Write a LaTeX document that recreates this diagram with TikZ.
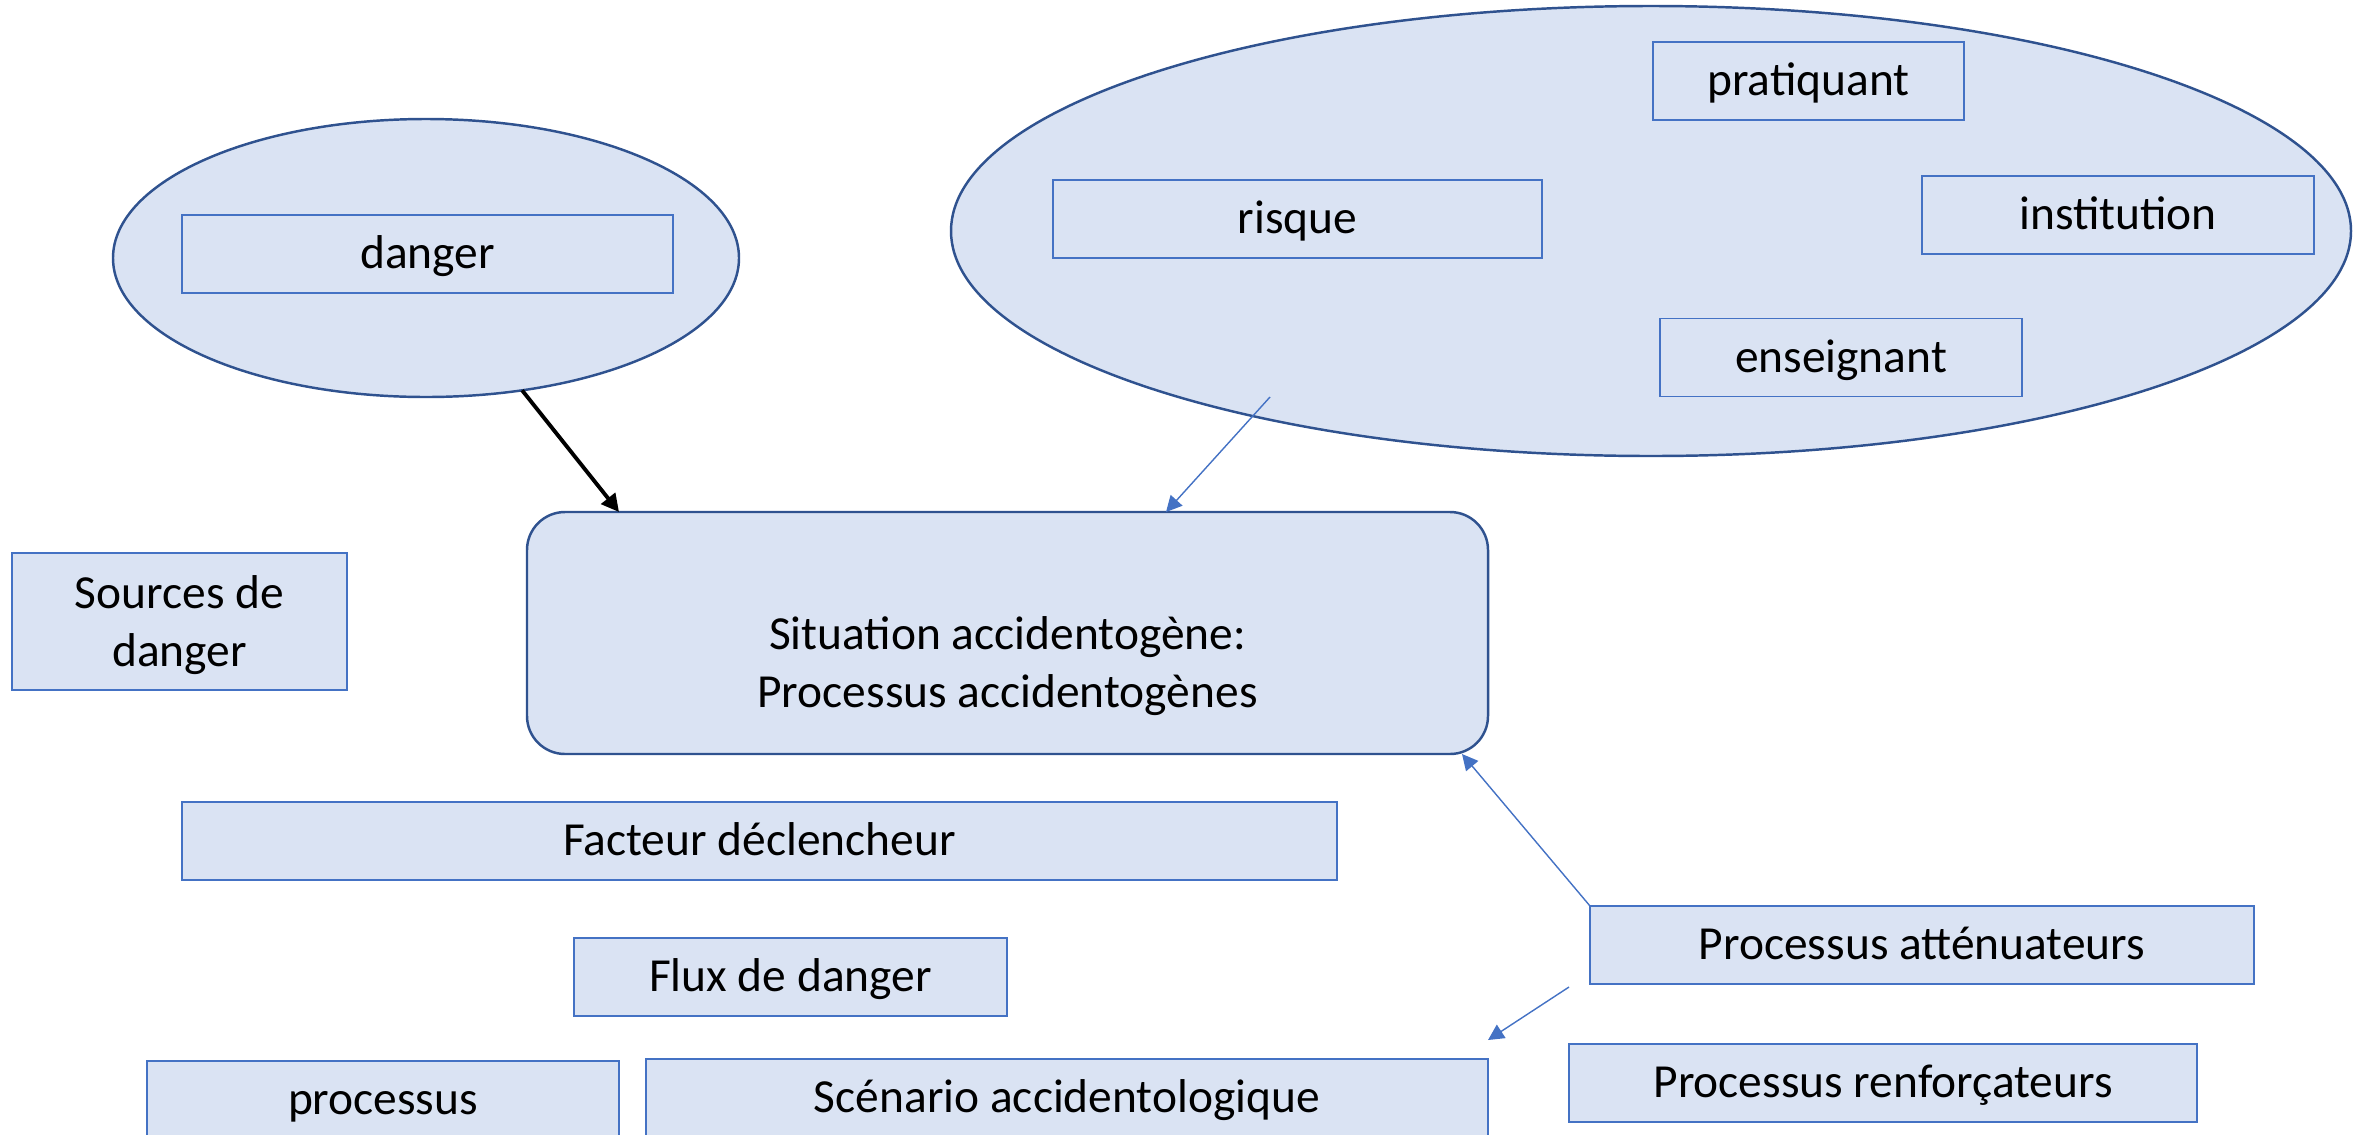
\documentclass[tikz,border=0pt]{standalone}
\usepackage{fontspec}
\setmainfont{Carlito}
\usepackage{tikz}
\usetikzlibrary{shapes.geometric,arrows.meta}

\definecolor{boxfill}{HTML}{DAE3F3}
\definecolor{boxline}{HTML}{4472C4}
\definecolor{darkline}{HTML}{2F528F}

\begin{document}
\begin{tikzpicture}[
    every node/.style={font=\fontsize{13.5}{16.5}\selectfont},
    bloc/.style={draw=boxline,fill=boxfill,line width=0.5pt,inner sep=0pt,outer sep=0pt,minimum height=0.78cm,align=center},
    ligne/.style={bloc,text height=9.5pt,text depth=1pt},
    bulle/.style={ellipse,draw=darkline,fill=boxfill,line width=0.7pt,inner sep=0pt,outer sep=0pt},
    fleche/.style={draw=boxline,line width=0.4pt,-{Triangle[length=4.5pt,width=4.5pt]}}
  ]
  \clip (0,0) rectangle (23.56,-11.34);
  \node[bulle,minimum width=6.26cm,minimum height=2.78cm] (dangerell) at (4.26,-2.58) {};
  \node[bulle,minimum width=14cm,minimum height=4.5cm] (acteurs) at (16.51,-2.31) {};
  \node[ligne,minimum width=4.91cm] (danger) at (4.275,-2.54) {danger};
  \node[ligne,minimum width=3.11cm] (pratiquant) at (18.085,-0.81) {pratiquant};
  \node[ligne,minimum width=4.89cm] (risque) at (12.975,-2.19) {risque};
  \node[ligne,minimum width=3.92cm] (institution) at (21.18,-2.15) {institution};
  \node[ligne,minimum width=3.62cm] (enseignant) at (18.41,-3.575) {enseignant};
  \node[bloc,minimum width=3.35cm,minimum height=1.37cm] (sources) at (1.795,-6.215) {\strut Sources de\\danger};
  \node[bloc,draw=darkline,line width=0.7pt,rounded corners=0.38cm,minimum width=9.61cm,minimum height=2.42cm] (situation) at (10.075,-6.33)
    {\strut\\Situation accidentogène:\\Processus accidentogènes};
  \node[ligne,minimum width=11.55cm] (facteur) at (7.595,-8.41) {Facteur déclencheur};
  \node[ligne,minimum width=4.33cm] (flux) at (7.905,-9.77) {Flux de danger};
  \node[ligne,minimum width=4.72cm] (processus) at (3.83,-11.0) {processus};
  \node[ligne,minimum width=8.42cm] (scenario) at (10.67,-10.98) {Scénario accidentologique};
  \node[ligne,minimum width=6.64cm] (attenuateurs) at (19.22,-9.45) {Processus atténuateurs};
  \node[ligne,minimum width=6.28cm] (renforcateurs) at (18.83,-10.83) {Processus renforçateurs};
  \coordinate (acteurspied) at (12.70,-3.97);
  \coordinate (attenpied) at ([xshift=-0.21cm,yshift=-0.03cm]attenuateurs.south west);
  \coordinate (scenariohaut) at ([yshift=0.19cm]scenario.north east);
  \draw[line width=1.1pt,-{Triangle[length=5pt,width=5pt]}] (dangerell.-54) -- ([xshift=0.92cm]situation.north west);
  \draw[fleche] (acteurspied) -- ([xshift=6.39cm]situation.north west);
  \draw[fleche] (attenuateurs.north west) -- ([xshift=-0.26cm]situation.south east);
  \draw[fleche] (attenpied) -- (scenariohaut);
\end{tikzpicture}
\end{document}
